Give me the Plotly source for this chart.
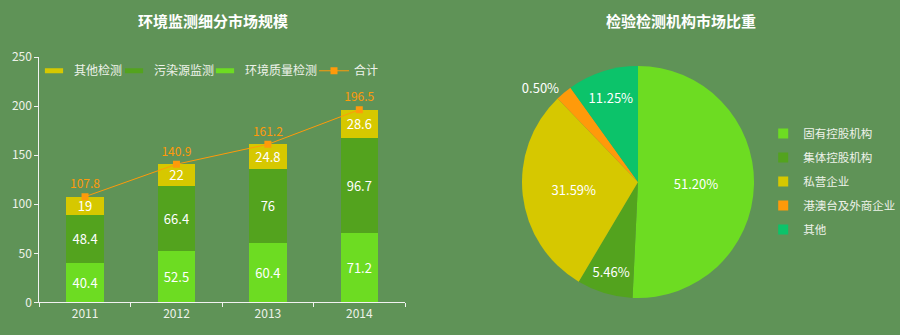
import plotly.graph_objects as go

years = ["2011", "2012", "2013", "2014"]
env_quality = [40.4, 52.5, 60.4, 71.2]
pollution = [48.4, 66.4, 76, 96.7]
other = [19, 22, 24.8, 28.6]
total = [107.8, 140.9, 161.2, 196.5]

pie_labels = ["固有控股机构", "集体控股机构", "私营企业", "港澳台及外商企业", "其他"]
pie_shares = [50.8, 7.8, 29.3, 2.3, 9.9]
pie_texts = ["51.20%", "5.46%", "31.59%", "0.50%", "11.25%"]

BG = "#5f9357"
C_YEL = "#d6c800"
C_DK = "#53a31e"
C_LT = "#6ddc22"
C_OR = "#ff9a0a"
C_TEAL = "#0cc36a"
TXT = "#eef2ea"
FONT = "Noto Sans CJK SC"

fig = go.Figure()

for vals, col in [(env_quality, C_LT), (pollution, C_DK), (other, C_YEL)]:
    fig.add_trace(go.Bar(x=years, y=vals, marker=dict(color=col, line=dict(width=0)), text=vals,
                         textposition="inside", insidetextanchor="middle", constraintext="none",
                         textangle=0, textfont=dict(color="white", size=13),
                         showlegend=False, width=0.41))

fig.add_trace(go.Scatter(x=years, y=total, mode="lines+markers+text", name="合计",
                         line=dict(color=C_OR, width=1), marker=dict(symbol="square", size=7, color=C_OR),
                         text=total, textposition="top center", textfont=dict(color=C_OR, size=12),
                         legend="legend4"))

for nm, col, lg in [("其他检测", C_YEL, "legend"), ("污染源监测", C_DK, "legend2"),
                    ("环境质量检测", C_LT, "legend3")]:
    fig.add_trace(go.Scatter(x=[None], y=[None], mode="markers", name=nm,
                             marker=dict(symbol="line-ew", size=13, line=dict(color=col, width=6)),
                             legend=lg))

pie_colors = [C_LT, C_DK, C_YEL, C_OR, C_TEAL]
fig.add_trace(go.Pie(labels=pie_labels, values=pie_shares, text=pie_texts, textinfo="text",
                     sort=False, direction="clockwise", rotation=0,
                     marker=dict(colors=pie_colors, line=dict(width=0)),
                     textposition=["inside", "inside", "inside", "outside", "inside"],
                     textfont=dict(color="white", size=13), insidetextorientation="horizontal",
                     showlegend=False, hoverinfo="label+percent",
                     domain=dict(x=[0.58, 0.8378], y=[0.1104, 0.803])))

for i, (nm, col) in enumerate(zip(pie_labels, pie_colors)):
    fig.add_trace(go.Scatter(x=[None], y=[None], mode="markers", name=nm,
                             marker=dict(symbol="square", size=10, color=col),
                             legend="legend5", legendgroup="g%d" % i))

axis_col = "#f2f2f2"
leg_common = dict(orientation="h", yanchor="top", xanchor="left", y=0.832,
                  bgcolor="rgba(0,0,0,0)", font=dict(size=12, color=TXT), itemclick=False)
fig.update_layout(
    width=900, height=335, paper_bgcolor=BG, plot_bgcolor=BG,
    margin=dict(l=0, r=0, t=0, b=0, pad=0, autoexpand=False), barmode="stack",
    font=dict(family=FONT, color=TXT, size=12),
    xaxis=dict(domain=[0.0437, 0.45], type="category", range=[-0.5, 3.5], automargin=False,
               showline=True, linecolor=axis_col, linewidth=1, ticks="outside",
               tickson="boundaries", ticklen=4, tickcolor=axis_col, showgrid=False,
               tickfont=dict(size=12, color=TXT), fixedrange=True),
    yaxis=dict(domain=[0.0976, 0.829], range=[0, 250], dtick=50, automargin=False,
               showline=True, linecolor=axis_col, linewidth=1, ticks="outside",
               ticklen=4, tickcolor=axis_col, showgrid=False, zeroline=False,
               tickfont=dict(size=12, color=TXT), fixedrange=True),
    legend=dict(x=34/900, **leg_common),
    legend2=dict(x=114/900, **leg_common),
    legend3=dict(x=205/900, **leg_common),
    legend4=dict(x=314/900, **leg_common),
    legend5=dict(orientation="v", x=0.848, y=0.6445, xanchor="left", yanchor="top",
                 bgcolor="rgba(0,0,0,0)", font=dict(size=11.5, color=TXT), tracegroupgap=5,
                 itemclick=False),
    annotations=[
        dict(text="<b>环境监测细分市场规模</b>", x=213/900, y=1-21/335, xref="paper", yref="paper",
             showarrow=False, font=dict(size=15, color="white"), xanchor="center", yanchor="middle"),
        dict(text="<b>检验检测机构市场比重</b>", x=681/900, y=1-21/335, xref="paper", yref="paper",
             showarrow=False, font=dict(size=15, color="white"), xanchor="center", yanchor="middle"),
    ],
)

fig.write_html("out.html")
